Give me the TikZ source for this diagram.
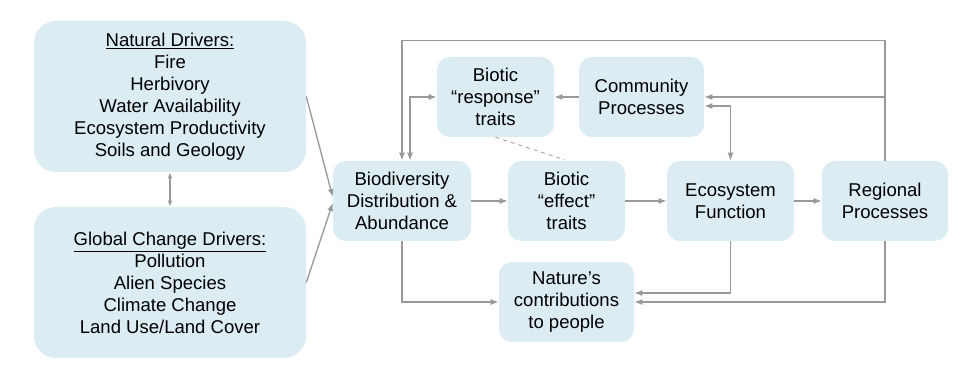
\documentclass[tikz,border=0pt]{standalone}
\usepackage{fontspec}
\setmainfont{Liberation Sans}
\usepackage{tikz}
\usetikzlibrary{arrows.meta,calc}

\definecolor{boxfill}{RGB}{219,236,242}
\definecolor{linkgray}{RGB}{153,153,153}

\begin{document}
\begin{tikzpicture}[x=0.75pt,y=-0.75pt,
  box/.style={fill=boxfill, rounded corners=13*0.75pt, align=center, inner sep=0pt,
    minimum height=80*0.75pt, font=\fontsize{13.9pt}{16.5pt}\selectfont},
  bigbox/.style={box, rounded corners=22*0.75pt, minimum width=272*0.75pt, minimum height=151*0.75pt},
  link/.style={draw=linkgray, line width=1pt, -{Latex[length=6pt,width=4.5pt]}},
  twoway/.style={link, {Latex[length=6pt,width=4.5pt]}-{Latex[length=6pt,width=4.5pt]}}]
\useasboundingbox (0,0) rectangle (960,384);

% drivers on the left
\node [bigbox] (nat) at (170,96.5) {\underline{Natural Drivers:}\\Fire\\Herbivory\\Water Availability\\Ecosystem Productivity\\Soils and Geology};
\node [bigbox] (glob) at (170,282.5) {\underline{Global Change Drivers:}\\Pollution\\Alien Species\\Climate Change\\Land Use/Land Cover};

% middle row
\node [box, minimum width=138*0.75pt] (bio) at (402,201) {Biodiversity\\Distribution \&\\Abundance};
\node [box, minimum width=117*0.75pt] (eff) at (566.5,201) {Biotic\\``effect''\\traits};
\node [box, minimum width=127*0.75pt] (eco) at (730.5,201) {Ecosystem\\Function};
\node [box, minimum width=126*0.75pt] (reg) at (885,201) {Regional\\Processes};

% top row
\node [box, minimum width=117*0.75pt] (resp) at (495.5,97) {Biotic\\``response''\\traits};
\node [box, minimum width=125*0.75pt] (comm) at (641.5,97) {Community\\Processes};

% bottom
\node [box, minimum width=135*0.75pt] (ncp) at (566.5,302) {Nature's\\contributions\\to people};

\draw [twoway, {Latex[length=4.5pt,width=3.5pt]}-{Latex[length=4.5pt,width=3.5pt]}] (nat.south) -- (glob.north);
\draw [link] (nat.east) -- ($(bio.west)+(0,-4)$);
\draw [link] (glob.east) -- ($(bio.west)+(0,2)$);

\draw [link] (bio.east) -- (eff.west);
\draw [link] (eff.east) -- (eco.west);
\draw [link] (eco.east) -- (reg.west);

\draw [link] (reg.north) -- ++(0,-120) -| (bio.north);
\draw [link] (reg.north |- comm.east) -- (comm.east);
\draw [link] (comm.west) -- (resp.east);
\draw [twoway] ($(bio.north)+(8,0)$) |- (resp.west);
\draw [twoway] ($(comm.east)+(0,9)$) -| (eco.north);
\draw [linkgray, line width=0.6pt, dashed] (resp.south) -- ($(eff.north)+(-2,-1)$);

\draw [link] (bio.south) |- (ncp.west);
\draw [link] (eco.south) |- ($(ncp.east)+(0,-9)$);
\draw [link] (reg.south) |- (ncp.east);
\end{tikzpicture}
\end{document}
